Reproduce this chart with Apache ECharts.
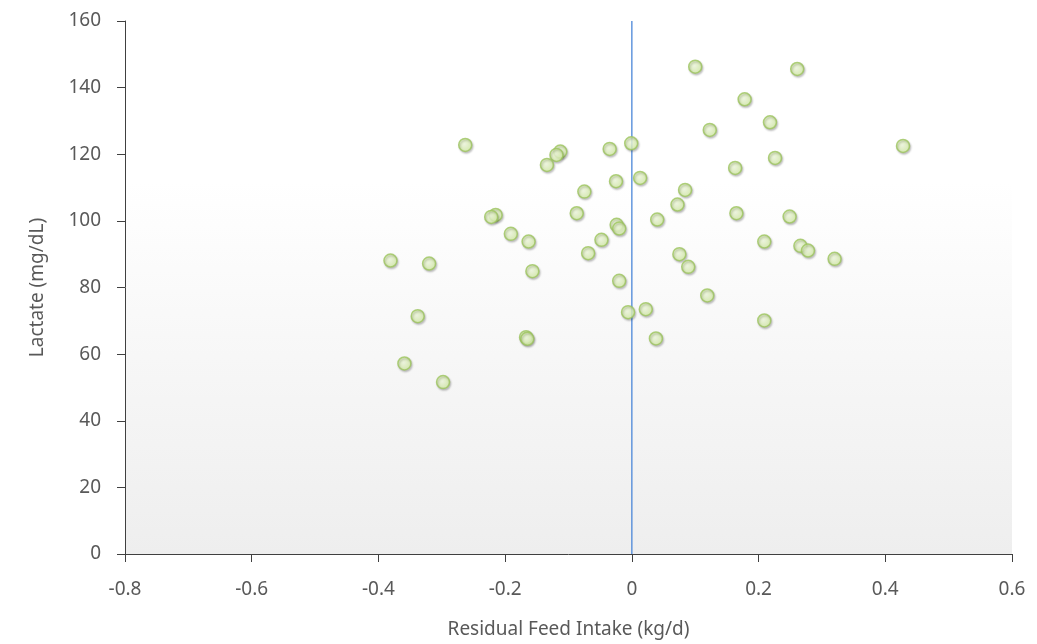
<!DOCTYPE html>
<html lang="en">
<head>
<meta charset="UTF-8" />
<title>Lactate vs RFI</title>
<style>
  * { margin: 0; padding: 0; box-sizing: border-box; }
  html, body { background: #fff; }
  #chart { width: 1037px; height: 644px; }
</style>
</head>
<body>
<div id="chart"></div>
<script src="https://cdn.jsdelivr.net/npm/echarts@6/dist/echarts.min.js"></script>
<script>
// residual feed intake (kg/d)
var rfi = [
  0.100, 0.261, 0.178, 0.218, 0.123, -0.263, -0.001, 0.428, -0.035, -0.113,
  -0.119, -0.134, 0.226, 0.163, 0.013, -0.025, -0.075, 0.084, 0.072, -0.087,
  0.165, -0.215, -0.222, 0.249, 0.040, -0.191, -0.163, -0.048, 0.209, -0.024,
  -0.020, 0.266, 0.278, -0.069, 0.075, -0.381, -0.320, 0.320, 0.089, -0.157,
  -0.020, 0.119, -0.338, -0.006, 0.022, 0.209, -0.167, -0.165, 0.038, -0.359,
  -0.298
]
// lactate (mg/dL)
var lactate = [
  146.3, 145.6, 136.5, 129.6, 127.3, 122.8, 123.3, 122.5, 121.6, 120.8,
  119.8, 116.8, 118.9, 115.9, 112.9, 111.9, 108.8, 109.3, 104.9, 102.3,
  102.3, 101.8, 101.2, 101.3, 100.4, 96.1, 93.8, 94.3, 93.8, 98.8,
  97.7, 92.5, 91.1, 90.3, 90.0, 88.1, 87.2, 88.6, 86.2, 84.9,
  82.0, 77.6, 71.4, 72.6, 73.5, 70.1, 65.1, 64.6, 64.7, 57.2,
  51.6
]
var xTicks = [-0.8, -0.6, -0.4, -0.2, 0, 0.2, 0.4, 0.6]
var yTicks = [0, 20, 40, 60, 80, 100, 120, 140, 160]

var points = rfi.map(function (x, i) { return [x, lactate[i]] })

var txt = '#595959'
var font = 'Noto Sans'

var chart = echarts.init(document.getElementById('chart'))
chart.setOption({
  animation: false,
  grid: {
    left: 125, right: 25, top: 21, bottom: 90,
    outerBoundsMode: 'none',
    containLabel: false,
    show: true,
    borderWidth: 0,
    backgroundColor: {
      type: 'linear', x: 0, y: 0, x2: 0, y2: 1,
      colorStops: [
        { offset: 0, color: '#ffffff' },
        { offset: 0.3, color: '#ffffff' },
        { offset: 1, color: '#eeeeee' }
      ]
    }
  },
  xAxis: {
    type: 'value',
    min: xTicks[0],
    max: xTicks[xTicks.length - 1],
    interval: 0.2,
    name: 'Residual Feed Intake (kg/d)',
    nameLocation: 'middle',
    nameGap: 66,
    nameTextStyle: { color: txt, fontSize: 19, fontFamily: font },
    axisLine: { onZero: false, lineStyle: { color: '#404040', width: 1 } },
    axisTick: { show: true, length: 8, lineStyle: { color: '#404040' } },
    axisLabel: {
      color: txt, fontSize: 19, fontFamily: font, margin: 26,
      formatter: function (v) { return String(Math.round(v * 10) / 10) }
    },
    splitLine: { show: false }
  },
  yAxis: {
    type: 'value',
    min: yTicks[0],
    max: yTicks[yTicks.length - 1],
    interval: 20,
    name: 'Lactate (mg/dL)',
    nameLocation: 'middle',
    nameGap: 78,
    nameTextStyle: { color: txt, fontSize: 19, fontFamily: font },
    axisLine: { show: true, onZero: false, lineStyle: { color: '#404040', width: 1 } },
    axisTick: { show: true, length: 8, lineStyle: { color: '#404040' } },
    axisLabel: { color: txt, fontSize: 19, fontFamily: font, margin: 24 },
    splitLine: { show: false }
  },
  series: [
    {
      // vertical reference line at RFI = 0
      type: 'line',
      data: [[0, yTicks[0]], [0, yTicks[yTicks.length - 1]]],
      symbol: 'none',
      lineStyle: { color: '#4a86d8', width: 1.3 },
      z: 1
    },
    {
      type: 'scatter',
      data: points,
      symbolSize: 13,
      itemStyle: {
        color: {
          type: 'radial', x: 0.45, y: 0.45, r: 0.6,
          colorStops: [
            { offset: 0, color: '#f4fde2' },
            { offset: 1, color: '#d3eea0' }
          ]
        },
        borderColor: '#9cc45e',
        borderWidth: 1.5,
        shadowColor: 'rgba(0,0,0,0.25)',
        shadowBlur: 2,
        shadowOffsetX: 1,
        shadowOffsetY: 1.5
      },
      z: 3
    }
  ]
})
</script>
</body>
</html>
